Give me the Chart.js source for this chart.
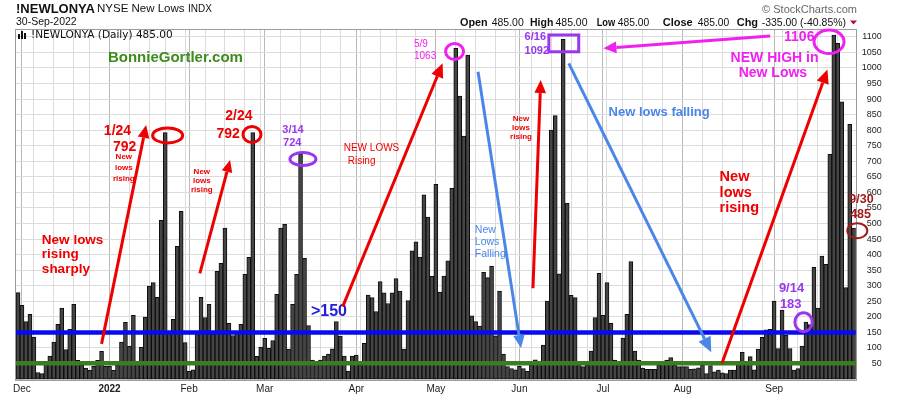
<!DOCTYPE html>
<html>
<head>
<meta charset="utf-8">
<script src="https://cdn.jsdelivr.net/npm/chart.js@4.4.0/dist/chart.umd.min.js"></script>
<style>
  html, body { margin: 0; padding: 0; background: #fff; }
  #wrap { width: 900px; height: 396px; }
</style>
</head>
<body>
<div id="wrap"><canvas id="chart" width="900" height="396"></canvas></div>
<script>
// NYSE new lows, daily bars, 30-Nov-2021 .. 30-Sep-2022
const newLows = [
  278, 237, 185, 208, 135, 21, 18, 50, 74, 119,
  176, 228, 95, 160, 240, 60, 45, 35, 28, 41,
  60, 89, 41, 41, 28, 45, 119, 182, 105, 205,
  58, 102, 199, 299, 310, 263, 510, 792, 150, 192,
  427, 539, 117, 25, 30, 150, 263, 198, 240, 145,
  346, 372, 485, 179, 140, 150, 176, 337, 391, 792,
  73, 103, 131, 99, 124, 272, 485, 497, 96, 240,
  337, 724, 388, 172, 61, 55, 61, 74, 80, 97,
  185, 138, 74, 26, 74, 77, 45, 115, 270, 262,
  217, 313, 277, 243, 277, 323, 283, 96, 252, 412,
  441, 392, 592, 521, 330, 626, 280, 331, 380, 613,
  1063, 910, 781, 1041, 203, 185, 170, 343, 326, 363,
  139, 283, 80, 40, 34, 30, 41, 34, 25, 45,
  62, 50, 109, 251, 800, 847, 338, 1092, 565, 269,
  262, 50, 40, 45, 90, 198, 340, 205, 310, 179,
  61, 55, 132, 208, 378, 90, 61, 35, 31, 31,
  31, 45, 50, 61, 69, 45, 40, 40, 40, 31,
  33, 36, 45, 18, 43, 23, 29, 20, 18, 29,
  29, 50, 86, 50, 72, 30, 96, 134, 158, 160,
  251, 98, 221, 141, 98, 29, 34, 106, 183, 175,
  359, 228, 395, 369, 722, 1106, 1079, 891, 294, 819, 485
];
const firstDay = '2021-11-30';
const lastDay = '2022-09-30';
const holidays = ['2021-12-24', '2022-01-17', '2022-02-21', '2022-04-15', '2022-05-30', '2022-06-20', '2022-07-04', '2022-09-05'];
const monthNames = ['Jan', 'Feb', 'Mar', 'Apr', 'May', 'Jun', 'Jul', 'Aug', 'Sep', 'Oct', 'Nov', 'Dec'];
const yTicks = [50, 100, 150, 200, 250, 300, 350, 400, 450, 500, 550, 600, 650, 700, 750, 800, 850, 900, 950, 1000, 1050, 1100];
const blueLevel = 150;
const greenLevel = 51;

const FONT = '"Liberation Sans", Arial, sans-serif';

// trading days (weekdays minus NYSE holidays)
const days = [];
let d = new Date(firstDay + 'T00:00:00Z');
const stop = new Date(lastDay + 'T00:00:00Z').getTime();
while (d.getTime() <= stop) {
  const iso = d.toISOString().slice(0, 10);
  const wd = d.getUTCDay();
  if (wd !== 0 && wd !== 6 && !holidays.includes(iso)) days.push(iso);
  d = new Date(d.getTime() + 86400000);
}

const axisLabels = [];
const lineKind = []; // 2 = month, 1 = week, 0 = none
days.forEach((s, i) => {
  const m = +s.slice(5, 7) - 1;
  const prev = i > 0 ? days[i - 1] : null;
  if (prev && +prev.slice(5, 7) - 1 !== m) {
    axisLabels.push(m === 0 ? s.slice(0, 4) : monthNames[m]);
    lineKind.push(2);
  } else {
    axisLabels.push('');
    const gap = prev ? (new Date(s) - new Date(prev)) / 86400000 : 0;
    lineKind.push(prev && (new Date(s).getUTCDay() < new Date(prev).getUTCDay() || gap > 3) ? 1 : 0);
  }
});

// notes are placed in data space: [bar index, value]
const RED = '#ee0000', MAG = '#f020f0', PUR = '#9a36ee', CORN = '#4a86e8', DRED = '#a31a1a';

function text(ctx, s, px, py, font, color, align, maxW) {
  ctx.font = font; ctx.fillStyle = color;
  ctx.textAlign = align || 'left'; ctx.textBaseline = 'middle';
  if (maxW) ctx.fillText(s, px, py, maxW); else ctx.fillText(s, px, py);
}
function arrow(ctx, x1, y1, x2, y2, color, lw, head) {
  const a = Math.atan2(y2 - y1, x2 - x1);
  const bx = x2 - head * Math.cos(a), by = y2 - head * Math.sin(a);
  ctx.strokeStyle = color; ctx.lineWidth = lw;
  ctx.beginPath(); ctx.moveTo(x1, y1); ctx.lineTo(bx, by); ctx.stroke();
  const w = head * 0.45;
  ctx.fillStyle = color;
  ctx.beginPath();
  ctx.moveTo(x2, y2);
  ctx.lineTo(bx + w * Math.sin(a), by - w * Math.cos(a));
  ctx.lineTo(bx - w * Math.sin(a), by + w * Math.cos(a));
  ctx.closePath(); ctx.fill();
}
function ring(ctx, cx, cy, rx, ry, color, lw) {
  ctx.strokeStyle = color; ctx.lineWidth = lw;
  ctx.beginPath(); ctx.ellipse(cx, cy, rx, ry, 0, 0, Math.PI * 2); ctx.stroke();
}

const notes = {
  id: 'notes',
  afterDatasetsDraw(chart) {
    const { ctx, chartArea: a, scales: { y } } = chart;
    ctx.save();
    [[blueLevel, '#0a0af0'], [greenLevel, '#3b7d1f']].forEach(([v, c]) => {
      const py = y.getPixelForValue(v);
      ctx.strokeStyle = c; ctx.lineWidth = 4.5;
      ctx.beginPath(); ctx.moveTo(a.left, py); ctx.lineTo(a.right, py); ctx.stroke();
    });
    ctx.restore();
  },
  afterDraw(chart) {
    const { ctx, chartArea: a, scales: { x, y } } = chart;
    const X = i => x.getPixelForValue(i);
    const Y = v => y.getPixelForValue(v);
    ctx.save();

    // frame
    ctx.strokeStyle = '#9c9c9c'; ctx.lineWidth = 1;
    ctx.strokeRect(Math.round(a.left) - 0.5, Math.round(a.top) - 0.5, Math.round(a.right - a.left) + 1, Math.round(a.bottom - a.top) + 1);

    // header
    text(ctx, '!NEWLONYA', 16, 9, 'bold 13px ' + FONT, '#111');
    text(ctx, 'NYSE New Lows', 97, 9, '11.5px ' + FONT, '#111');
    text(ctx, 'INDX', 188, 9, '10px ' + FONT, '#111');
    text(ctx, '30-Sep-2022', 16, 22.5, '10.5px ' + FONT, '#111');
    text(ctx, '\u00A9 StockCharts.com', 857, 9.5, '11px ' + FONT, '#666', 'right');
    [['Open', 460, 1, 27.7], ['485.00', 491.7, 0, 32], ['High', 530, 1, 23.3], ['485.00', 555.5, 0, 32],
     ['Low', 596.7, 1, 18.5], ['485.00', 617.7, 0, 31.5], ['Close', 662.7, 1, 30.7], ['485.00', 697.7, 0, 31.5],
     ['Chg', 736.7, 1, 21.7], ['-335.00 (-40.85%)', 761.7, 0, 84.3]].forEach(p => {
      text(ctx, p[0], p[1], 22.7, (p[2] ? 'bold ' : '') + '11px ' + FONT, '#111', 'left', p[3]);
    });
    ctx.fillStyle = '#b01030';
    ctx.beginPath(); ctx.moveTo(850, 20.5); ctx.lineTo(857, 20.5); ctx.lineTo(853.5, 24.5); ctx.closePath(); ctx.fill();

    // legend inside the plot
    ctx.fillStyle = '#111';
    ctx.fillRect(18, 34, 2, 5); ctx.fillRect(21, 31, 2, 8); ctx.fillRect(24, 33, 2, 6);
    text(ctx, '!NEWLONYA (Daily) 485.00', 31, 35.5, '10.5px "DejaVu Sans", Verdana, sans-serif', '#111');

    text(ctx, 'BonnieGortler.com', X(22.6), Y(1032), 'bold 15px ' + FONT, '#3d8b1d');

    // December / January
    ['New lows', 'rising', 'sharply'].forEach((s, k) => text(ctx, s, X(6.0), Y([447, 400, 353][k]), 'bold 13.5px ' + FONT, RED));
    arrow(ctx, X(21.0), Y(113), X(32.2), Y(817), RED, 3, 13);
    ['New', 'lows', 'rising'].forEach((s, k) => text(ctx, s, X(26.6), Y([714, 678, 643][k]), 'bold 8px ' + FONT, RED, 'center'));
    text(ctx, '1/24', X(25.0), Y(797), 'bold 14px ' + FONT, RED, 'center');
    text(ctx, '792', X(26.8), Y(746), 'bold 14px ' + FONT, RED, 'center');
    ring(ctx, X(37.6), Y(783), 15, 7.5, RED, 3);

    // February
    arrow(ctx, X(45.7), Y(340), X(53.3), Y(704), RED, 3, 12);
    ['New', 'lows', 'rising'].forEach((s, k) => text(ctx, s, X(46.2), Y([666, 637, 608][k]), 'bold 8px ' + FONT, RED, 'center'));
    text(ctx, '2/24', X(55.5), Y(846), 'bold 14px ' + FONT, RED, 'center');
    text(ctx, '792', X(52.8), Y(787), 'bold 14px ' + FONT, RED, 'center');
    ring(ctx, X(58.8), Y(786), 9, 8, RED, 3);

    // March
    text(ctx, '3/14', X(69.1), Y(801), 'bold 11px ' + FONT, PUR, 'center');
    text(ctx, '724', X(68.9), Y(760), 'bold 11px ' + FONT, PUR, 'center');
    ring(ctx, X(71.6), Y(707), 13, 6.5, PUR, 3);
    text(ctx, '>150', X(73.6), Y(217), 'bold 16px ' + FONT, '#2020d8');
    text(ctx, 'NEW LOWS', X(81.85), Y(742), '10px ' + FONT, RED);
    text(ctx, 'Rising', X(82.85), Y(699), '10px ' + FONT, RED);
    arrow(ctx, X(81.6), Y(233), X(106.7), Y(1015), RED, 3, 14);

    // May
    text(ctx, '5/9', X(99.5), Y(1077), '10px ' + FONT, MAG);
    text(ctx, '1063', X(99.5), Y(1039), '10px ' + FONT, MAG);
    ring(ctx, X(109.7), Y(1053), 9, 8, MAG, 3);
    ['New', 'Lows', 'Falling'].forEach((s, k) => text(ctx, s, X(114.8), Y([479, 441, 402][k]), '10.5px ' + FONT, CORN));
    arrow(ctx, X(115.6), Y(988), X(126.4), Y(100), CORN, 3, 13);

    // June
    arrow(ctx, X(129.4), Y(292), X(131.35), Y(961), RED, 3, 13);
    ['New', 'lows', 'rising'].forEach((s, k) => text(ctx, s, X(126.4), Y([838, 809, 779][k]), 'bold 8px ' + FONT, RED, 'center'));
    text(ctx, '6/16', X(127.3), Y(1100), 'bold 11px ' + FONT, PUR);
    text(ctx, '1092', X(127.3), Y(1055), 'bold 11px ' + FONT, PUR);
    ctx.strokeStyle = PUR; ctx.lineWidth = 3;
    ctx.strokeRect(X(133.4), Y(1106), X(140.9) - X(133.4), Y(1052) - Y(1106));
    text(ctx, 'New lows falling', X(148.4), Y(856), 'bold 13px ' + FONT, CORN);
    arrow(ctx, X(138.4), Y(1015), X(174.2), Y(86), CORN, 3, 15);

    // August / September
    ['New', 'lows', 'rising'].forEach((s, k) => text(ctx, s, X(176.3), Y([648, 599, 549][k]), 'bold 14.5px ' + FONT, RED));
    arrow(ctx, X(176.9), Y(51), X(203.4), Y(995), RED, 3, 14);
    arrow(ctx, X(189.0), Y(1103), X(147.1), Y(1063), MAG, 3, 13);
    text(ctx, '1106', X(192.5), Y(1099), 'bold 14px ' + FONT, MAG);
    ring(ctx, X(203.8), Y(1084), 15, 11.7, MAG, 3);
    text(ctx, 'NEW HIGH in', X(190.1), Y(1031), 'bold 14px ' + FONT, MAG, 'center');
    text(ctx, 'New Lows', X(189.7), Y(983), 'bold 14px ' + FONT, MAG, 'center');
    text(ctx, '9/14', X(191.2), Y(292), 'bold 13px ' + FONT, PUR);
    text(ctx, '183', X(191.45), Y(241), 'bold 13px ' + FONT, PUR);
    ring(ctx, X(197.4), Y(183), 8.7, 9.5, PUR, 3);
    text(ctx, '9/30', X(208.9), Y(576), 'bold 12.5px ' + FONT, DRED);
    text(ctx, '485', X(209.1), Y(530), 'bold 12.5px ' + FONT, DRED);
    ring(ctx, X(210.9), Y(477), 10, 7.5, DRED, 2);

    ctx.restore();
  }
};

new Chart(document.getElementById('chart'), {
  type: 'bar',
  data: {
    labels: days,
    datasets: [{
      data: newLows,
      backgroundColor: '#454545',
      borderColor: '#0d0d0d',
      borderWidth: 1,
      borderSkipped: false,
      barPercentage: 1,
      categoryPercentage: 1
    }]
  },
  options: {
    responsive: false,
    animation: false,
    layout: { padding: { left: 16, right: 18.3, top: 30, bottom: 0 } },
    plugins: { legend: { display: false }, tooltip: { enabled: false } },
    scales: {
      x: {
        offset: true,
        grid: {
          offset: false,
          drawTicks: false,
          lineWidth: 1,
          color: c => lineKind[c.index] === 2 ? '#b8b8b8' : (lineKind[c.index] === 1 ? '#dcdcdc' : 'rgba(0,0,0,0)')
        },
        border: { display: false },
        ticks: {
          autoSkip: false, maxRotation: 0, minRotation: 0, padding: 3,
          color: '#222',
          font: c => ({ family: FONT, size: 10, weight: axisLabels[c.index] === '2022' ? 'bold' : 'normal' }),
          callback: (v, i) => axisLabels[i]
        },
        afterFit: s => { s.height = 16; }
      },
      y: {
        position: 'right',
        min: -3,
        max: 1122,
        afterBuildTicks: s => { s.ticks = yTicks.map(v => ({ value: v })); },
        grid: { color: '#dcdcdc', drawTicks: false },
        border: { display: false },
        ticks: {
          color: '#222', padding: 0, crossAlign: 'far',
          font: { family: FONT, size: 9 },
          callback: v => String(v)
        },
        afterFit: s => { s.width = 26; }
      }
    }
  },
  plugins: [notes]
});
</script>
</body>
</html>
